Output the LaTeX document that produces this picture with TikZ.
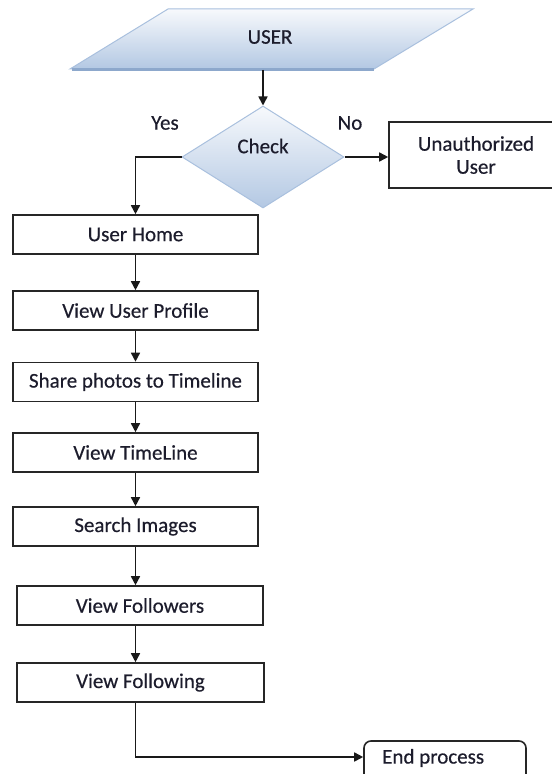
\documentclass[tikz,border=0pt]{standalone}
\usepackage{fontspec}
\setmainfont[FakeBold=0.4]{Carlito}
\usetikzlibrary{shapes.geometric,arrows.meta}
\definecolor{txt}{HTML}{1C1C2C}
\definecolor{shapeline}{HTML}{A9C0DE}
\definecolor{shapetop}{HTML}{F7F9FC}
\definecolor{shapebot}{HTML}{B3C8E3}
\definecolor{shadowline}{HTML}{8DA8CC}
\tikzset{
  every node/.style={font=\fontsize{21bp}{23bp}\selectfont, text=txt},
  procbox/.style={draw=black!85, line width=1.6bp, fill=white, minimum width=245bp, minimum height=39bp, inner sep=0pt},
  flowarrow/.style={draw=black!90, line width=1.6bp, -{Triangle[length=9bp,width=9bp]}},
  lbl/.style={inner sep=0pt}
}
\begin{document}
\begin{tikzpicture}[x=1bp,y=-1bp]
\useasboundingbox (0,0) rectangle (552,774);
\clip (0,0) rectangle (552,774);
% USER parallelogram
\shade[top color=shapetop, bottom color=shapebot, draw=shapeline, line width=1bp]
  (70,69) -- (168,9) -- (473,9) -- (374,69) -- cycle;
\draw[shadowline, line width=2bp] (72,69.5) -- (374,69.5);
\node[lbl] (user) at (270,37) {USER};
\coordinate (userb) at (263,70);
% Check diamond
\node[diamond, draw=shapeline, line width=1bp, top color=shapetop, bottom color=shapebot,
      minimum width=162bp, minimum height=102bp, inner sep=0pt] (chk) at (263,157) {};
\node[lbl] (chktxt) at (263,146) {Check};
\node[lbl] (yes) at (165,123) {Yes};
\node[lbl] (no) at (350,123) {No};
% Unauthorized
\node[procbox, minimum width=174bp, minimum height=66bp, align=center] (unauth) at (476,155) {Unauthorized\\User};
% process boxes
\node[procbox] (home) at (135.5,234.5) {User Home};
\node[procbox] (profile) at (135.5,310.5) {View User Profile};
\node[procbox] (share) at (135.5,382) {Share photos to Timeline};
\node[procbox] (timeline) at (135.5,452.5) {View TimeLine};
\node[procbox] (search) at (135.5,526.5) {Search Images};
\node[procbox, minimum width=246bp] (followers) at (140,605.5) {View Followers};
\node[procbox, minimum width=247bp] (following) at (140.5,682.5) {View Following};
% End process
\node[draw=black!85, line width=1.6bp, rounded corners=7bp, minimum width=162bp, minimum height=50bp, inner sep=0pt] (endp) at (445,766) {};
\node[lbl, anchor=west] (endtxt) at (382,758) {End process};
\coordinate (arrowy) at (0,757);
% connectors
\draw[flowarrow] (userb) -- (chk.north);
\draw[flowarrow] (chk.east) -- (chk.east -| unauth.west);
\draw[flowarrow] (chk.west) -| (home.north);
\draw[flowarrow] (home.south) -- (profile.north);
\draw[flowarrow] (profile.south) -- (share.north);
\draw[flowarrow] (share.south) -- (timeline.north);
\draw[flowarrow] (timeline.south) -- (search.north);
\draw[flowarrow] (search.south) -- (search.south |- followers.north);
\draw[flowarrow] (followers.south -| search.south) -- (search.south |- following.north);
\draw[flowarrow] (following.south -| search.south) |- (endp.west |- arrowy);
\end{tikzpicture}
\end{document}
